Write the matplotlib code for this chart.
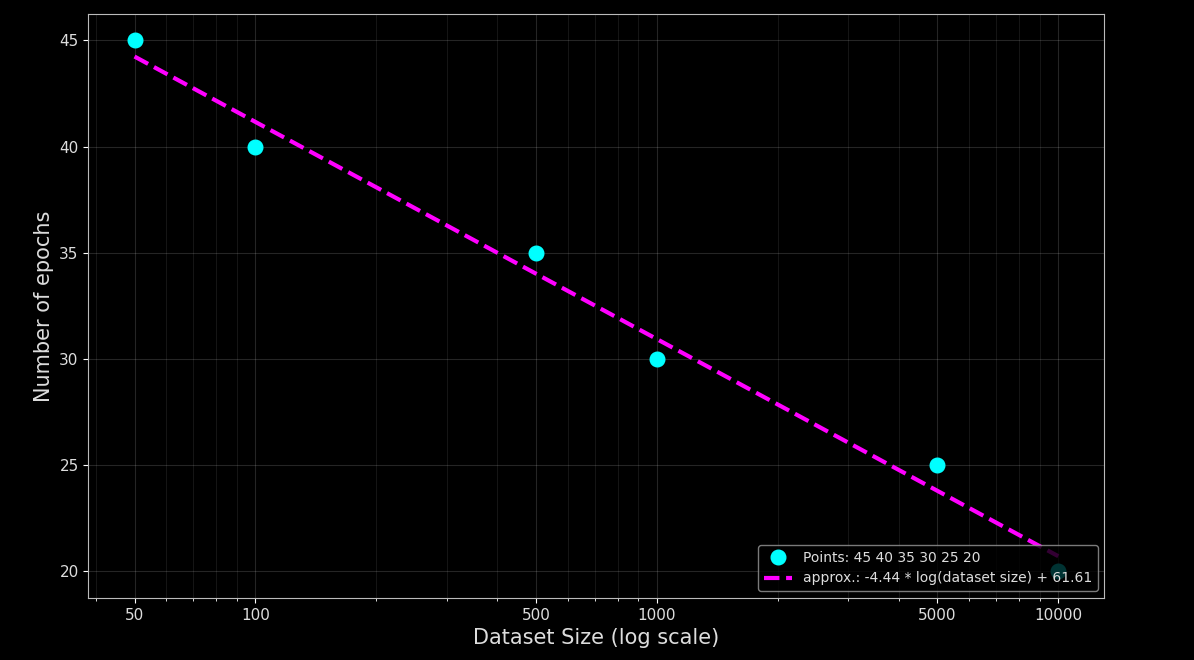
import matplotlib

matplotlib.use("Agg")
import matplotlib.pyplot as plt
import numpy as np
from matplotlib.ticker import FixedLocator, FixedFormatter, LogLocator, NullFormatter

dataset_sizes = [50, 100, 500, 1000, 5000, 10000]
epochs = [45, 40, 35, 30, 25, 20]
fit_slope = -4.44
fit_intercept = 61.61
x_tick_labels = ["50", "100", "500", "1000", "5000", "10000"]

plt.style.use("dark_background")
fig, ax = plt.subplots(figsize=(11.94, 6.6), dpi=100)
fig.subplots_adjust(left=0.074, right=0.925, top=0.979, bottom=0.094)

sizes = np.array(dataset_sizes, dtype=float)
fit_values = fit_slope * np.log(sizes) + fit_intercept

ax.plot(sizes, epochs, "o", color="#00ffff", markersize=10.5,
        label="Points: " + " ".join(str(v) for v in epochs), zorder=3)
ax.plot(sizes, fit_values, "--", color="#ff00ff", linewidth=3,
        label=f"approx.: {fit_slope:.2f} * log(dataset size) + {fit_intercept:.2f}", zorder=2)

ax.set_xscale("log")
ax.xaxis.set_major_locator(FixedLocator(dataset_sizes))
ax.xaxis.set_major_formatter(FixedFormatter(x_tick_labels))
ax.xaxis.set_minor_locator(LogLocator(base=10, subs=np.arange(2, 10)))
ax.xaxis.set_minor_formatter(NullFormatter())

ax.grid(True, which="major", color="white", alpha=0.15, linewidth=0.8)
ax.grid(True, which="minor", color="white", alpha=0.1, linewidth=0.6)

ax.set_xlabel("Dataset Size (log scale)", fontsize=15, color="#dddddd")
ax.set_ylabel("Number of epochs", fontsize=15, color="#dddddd")
ax.tick_params(labelsize=11, labelcolor="#dddddd")

for spine in ax.spines.values():
    spine.set_color("#bbbbbb")

leg = ax.legend(loc="lower right", fontsize=10, framealpha=0.8)
leg.get_frame().set_edgecolor("#999999")
for text in leg.get_texts():
    text.set_color("#dddddd")

fig.savefig("out.png", dpi=100)
